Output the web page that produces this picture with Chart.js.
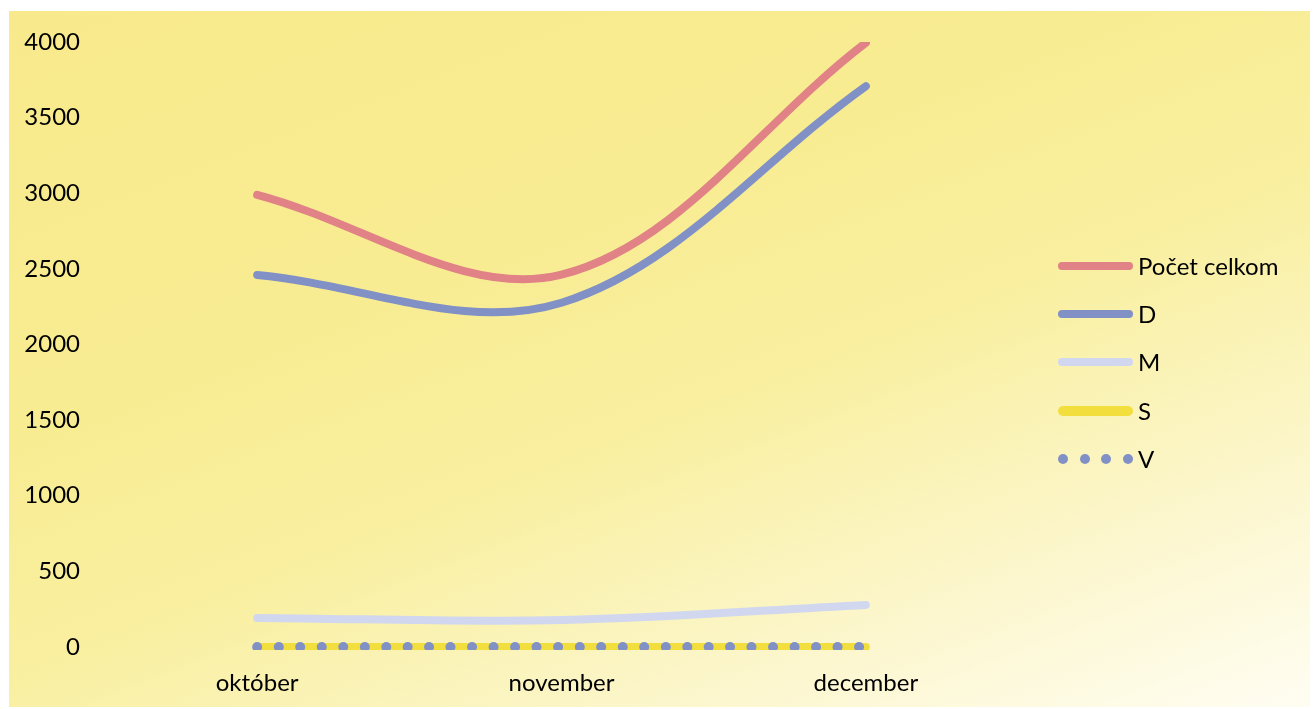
<!DOCTYPE html>
<html>
<head>
<meta charset="utf-8">
<script src="https://cdn.jsdelivr.net/npm/chart.js@4"></script>
<style>
  html, body { margin: 0; padding: 0; background: #ffffff; }
  #wrap { position: relative; width: 1314px; height: 709px; }
  canvas { position: absolute; left: 0; top: 0; }
  #legend { position: absolute; left: 1058px; top: 0; font-family: Lato, "Open Sans", sans-serif; font-size: 24px; color: #000; }
  .item { position: absolute; left: 0; height: 30px; width: 260px; }
  .sample { position: absolute; left: 0; top: 11px; width: 75px; height: 8px; border-radius: 4px; }
  .dots { position: absolute; left: 0; top: 10px; width: 75px; height: 10px; }
  .dot { position: absolute; top: 0; width: 10px; height: 10px; border-radius: 5px; background: #8191C5; }
  .label { position: absolute; left: 80px; top: 0; line-height: 30px; white-space: nowrap; }
</style>
</head>
<body>
<div id="wrap">
  <canvas id="c" width="1314" height="709"></canvas>
  <div id="legend"></div>
</div>
<script>
const categories = ["október", "november", "december"];
const seriesNames = ["Počet celkom", "D", "M", "S", "V"];
const pocetCelkom = [2990, 2462, 3995];
const seriesD = [2460, 2276, 3708];
const seriesM = [192, 178, 278];
const seriesS = [0, 0, 0];
const seriesV = [0, 0, 0];
const yTicks = [0, 500, 1000, 1500, 2000, 2500, 3000, 3500, 4000];

const colors = ["#E08286", "#8191C5", "#D1D7EF", "#F2DE3C", "#8191C5"];

const bgPlugin = {
  id: 'bg',
  beforeDraw(chart) {
    const ctx = chart.ctx;
    ctx.save();
    const x0 = 9, y0 = 11, x1 = 1310, y1 = 707;
    const g = ctx.createLinearGradient(x0, y0, 410, 1052);
    g.addColorStop(0, "#F8EA8C");
    g.addColorStop(0.35, "#F8EC92");
    g.addColorStop(0.55, "#F9EF9F");
    g.addColorStop(0.75, "#FBF5C4");
    g.addColorStop(1, "#FFFDF2");
    ctx.fillStyle = g;
    ctx.fillRect(x0, y0, x1 - x0, y1 - y0);
    ctx.restore();
  }
};

const common = { fill: false, pointRadius: 0, pointHoverRadius: 0, borderCapStyle: 'round', borderJoinStyle: 'round', tension: 0.35 };
const lowClip = { left: 10, right: 10, top: 0, bottom: 3 };

new Chart(document.getElementById('c'), {
  type: 'line',
  data: {
    labels: categories,
    datasets: [
      Object.assign({ label: seriesNames[0], data: pocetCelkom, borderColor: colors[0], borderWidth: 8, order: 0 }, common),
      Object.assign({ label: seriesNames[1], data: seriesD, borderColor: colors[1], borderWidth: 8, order: 1 }, common),
      Object.assign({ label: seriesNames[2], data: seriesM, borderColor: colors[2], borderWidth: 8, order: 2 }, common),
      Object.assign({ label: seriesNames[3], data: seriesS, borderColor: colors[3], borderWidth: 8, order: 4, clip: lowClip }, common),
      Object.assign({ label: seriesNames[4], data: seriesV, borderColor: colors[4], borderWidth: 10, borderDash: [0, 21.5], order: 3, clip: lowClip }, common)
    ]
  },
  options: {
    responsive: false,
    animation: false,
    events: [],
    layout: { padding: { left: 0, top: 42, right: 296, bottom: 0 } },
    plugins: { legend: { display: false }, tooltip: { enabled: false } },
    scales: {
      x: {
        offset: true,
        grid: { display: false, drawTicks: false },
        border: { display: false },
        ticks: { color: '#000', font: { family: 'Lato', size: 24 }, padding: 22, maxRotation: 0 },
        afterFit(s) { s.height = 62; }
      },
      y: {
        min: 0, max: 4000,
        afterBuildTicks(s) { s.ticks = yTicks.map(v => ({ value: v })); },
        grid: { display: false, drawTicks: false },
        border: { display: false },
        ticks: { color: '#000', font: { family: 'Lato', size: 24 }, padding: 25, callback: (v) => String(v) },
        afterFit(s) { s.width = 105; }
      }
    }
  },
  plugins: [bgPlugin]
});

// HTML legend
const legend = document.getElementById('legend');
const centers = [266, 314, 362, 411, 459];
seriesNames.forEach((name, i) => {
  const item = document.createElement('div');
  item.className = 'item';
  item.style.top = (centers[i] - 15) + 'px';
  if (i === 4) {
    const d = document.createElement('div');
    d.className = 'dots';
    [0, 21.5, 43, 64.5].forEach(x => {
      const dot = document.createElement('div');
      dot.className = 'dot';
      dot.style.left = x + 'px';
      d.appendChild(dot);
    });
    item.appendChild(d);
  } else {
    const s = document.createElement('div');
    s.className = 'sample';
    s.style.background = colors[i];
    if (i === 3) { s.style.height = '10px'; s.style.top = '10px'; s.style.borderRadius = '5px'; }
    item.appendChild(s);
  }
  const l = document.createElement('div');
  l.className = 'label';
  l.textContent = name;
  item.appendChild(l);
  legend.appendChild(item);
});
</script>
</body>
</html>
